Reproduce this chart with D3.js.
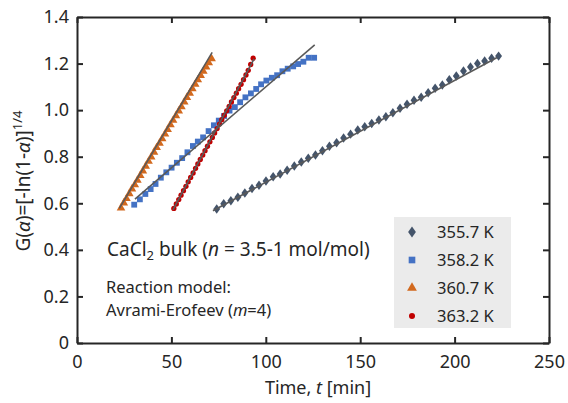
<!DOCTYPE html>
<html lang="en">
<head>
<meta charset="UTF-8">
<title>CaCl2 kinetics</title>
<style>
    body { margin: 0; background: white; }
    #svg { display: block; }
    text { font-family: "Noto Sans", "Open Sans", sans-serif; fill: #262626; }
</style>
<script src="https://d3js.org/d3.v7.min.js"></script>
</head>
<body>
<svg id="svg"></svg>
<script>
    const width = 568;
    const height = 403;
    const margin = { top: 17, right: 19, bottom: 60, left: 77 };

    // 355.7 K
    const t355 = [74.0, 77.7, 81.5, 85.2, 88.9, 92.7, 96.4, 100.1, 103.9, 107.6, 111.3, 115.1, 118.8, 122.5,
        126.3, 130.0, 133.7, 137.5, 141.2, 144.9, 148.7, 152.4, 156.1, 159.9, 163.6, 167.3, 171.1, 174.8,
        178.5, 182.3, 186.0, 189.7, 193.5, 197.2, 200.9, 204.7, 208.4, 212.1, 215.9, 219.6, 223.3];
    const g355 = [0.575, 0.598, 0.611, 0.626, 0.644, 0.663, 0.677, 0.696, 0.714, 0.726, 0.742, 0.760, 0.777, 0.793,
        0.807, 0.826, 0.845, 0.860, 0.880, 0.897, 0.915, 0.929, 0.943, 0.958, 0.972, 0.989, 1.008, 1.025,
        1.042, 1.055, 1.075, 1.094, 1.108, 1.131, 1.147, 1.168, 1.185, 1.200, 1.211, 1.223, 1.232];
    // 358.2 K
    const t358 = [30.3, 33.3, 36.2, 39.0, 41.6, 44.4, 47.3, 50.1, 52.9, 55.7, 58.5, 61.4, 64.0, 66.8, 69.7,
        72.5, 75.1, 77.9, 80.8, 83.6, 86.4, 89.2, 92.1, 94.9, 97.5, 100.3, 103.2, 106.0, 108.8, 111.6,
        114.5, 117.1, 119.9, 122.7, 125.6];
    const g358 = [0.594, 0.617, 0.640, 0.661, 0.683, 0.710, 0.733, 0.753, 0.774, 0.794, 0.819, 0.846, 0.865, 0.883, 0.910,
        0.935, 0.955, 0.975, 0.998, 1.013, 1.034, 1.055, 1.072, 1.091, 1.111, 1.127, 1.139, 1.150, 1.167, 1.178,
        1.188, 1.198, 1.208, 1.225, 1.225];
    // 360.7 K
    const t360 = [23.3, 24.8, 26.2, 27.7, 29.1, 30.6, 32.0, 33.5, 34.9, 36.4, 37.9, 39.3, 40.8, 42.2, 43.7, 45.1,
        46.6, 48.0, 49.5, 50.9, 52.4, 53.9, 55.3, 56.8, 58.2, 59.7, 61.1, 62.6, 64.0, 65.5, 66.9, 68.4, 69.8, 71.3];
    const g360 = [0.580, 0.601, 0.620, 0.641, 0.661, 0.680, 0.699, 0.719, 0.739, 0.759, 0.780, 0.799, 0.819, 0.839, 0.858, 0.877,
        0.897, 0.917, 0.937, 0.956, 0.976, 0.996, 1.015, 1.035, 1.054, 1.073, 1.092, 1.111, 1.130, 1.149, 1.167, 1.185, 1.203, 1.221];
    // 363.2 K
    const t363 = [51.3, 52.6, 53.9, 55.1, 56.4, 57.7, 58.9, 60.2, 61.5, 62.8, 64.0, 65.3, 66.6, 67.8, 69.1, 70.4,
        71.7, 72.9, 74.2, 75.5, 76.7, 78.0, 79.3, 80.6, 81.8, 83.1, 84.4, 85.6, 86.9, 88.2, 89.5, 90.7, 92.0, 93.3];
    const g363 = [0.578, 0.597, 0.616, 0.635, 0.654, 0.673, 0.692, 0.711, 0.730, 0.750, 0.769, 0.788, 0.807, 0.826, 0.845, 0.864,
        0.883, 0.902, 0.921, 0.940, 0.959, 0.978, 0.997, 1.016, 1.035, 1.054, 1.073, 1.092, 1.111, 1.131, 1.151, 1.171, 1.196, 1.223];

    // linear fits: [t start, G start, t end, G end]
    const fits = [
        [72.0, 0.568, 222.5, 1.226],
        [30.7, 0.618, 125.9, 1.280],
        [22.4, 0.578, 71.6, 1.248],
        [50.8, 0.572, 93.8, 1.220]
    ];

    const labels = ['355.7 K', '358.2 K', '360.7 K', '363.2 K'];
    const colors = ['#44546a', '#4472c4', '#d2691e', '#c00000'];
    const symbols = [d3.symbolDiamond, d3.symbolSquare, d3.symbolTriangle, d3.symbolCircle];
    const sizes = [26, 34, 32, 22];
    const xTicks = [0, 50, 100, 150, 200, 250];
    const yTicks = [0, 0.2, 0.4, 0.6, 0.8, 1.0, 1.2, 1.4];

    const series = [[t355, g355], [t358, g358], [t360, g360], [t363, g363]];

    const svg = d3.select('#svg')
        .attr('width', width)
        .attr('height', height);

    const x = d3.scaleLinear().domain([0, 250]).range([margin.left, width - margin.right]);
    const y = d3.scaleLinear().domain([0, 1.4]).range([height - margin.bottom, margin.top]);

    const x0 = x(0), x1 = x(250), y0 = y(0), y1 = y(1.4);

    // data markers
    series.forEach(function (s, k) {
        const pts = s[0].map(function (t, i) { return [t, s[1][i]]; });
        svg.append('g')
            .selectAll('path')
            .data(pts)
            .enter()
            .append('path')
            .attr('d', d3.symbol().type(symbols[k]).size(sizes[k]))
            .attr('transform', function (d) {
                return 'translate(' + x(d[0]) + ',' + y(d[1]) + ')' + (k === 0 ? ' scale(1.25,1)' : '');
            })
            .attr('fill', colors[k]);
    });

    // fit lines
    svg.append('g')
        .selectAll('line')
        .data(fits)
        .enter()
        .append('line')
        .attr('x1', function (d) { return x(d[0]); })
        .attr('y1', function (d) { return y(d[1]); })
        .attr('x2', function (d) { return x(d[2]); })
        .attr('y2', function (d) { return y(d[3]); })
        .attr('stroke', '#595959')
        .attr('stroke-width', 1.6);

    // axes, ticks pointing inward on all four sides
    const fmtY = function (d) { return d === 0 ? '0' : d3.format('.1f')(d); };
    const axB = svg.append('g').attr('transform', 'translate(0,' + y0 + ')')
        .call(d3.axisBottom(x).tickValues(xTicks).tickSizeInner(-6).tickSizeOuter(0).tickPadding(12));
    const axT = svg.append('g').attr('transform', 'translate(0,' + y1 + ')')
        .call(d3.axisTop(x).tickValues(xTicks).tickSizeInner(-6).tickSizeOuter(0).tickFormat(''));
    const axL = svg.append('g').attr('transform', 'translate(' + x0 + ',0)')
        .call(d3.axisLeft(y).tickValues(yTicks).tickFormat(fmtY).tickSizeInner(-6).tickSizeOuter(0).tickPadding(8));
    const axR = svg.append('g').attr('transform', 'translate(' + x1 + ',0)')
        .call(d3.axisRight(y).tickValues(yTicks).tickSizeInner(-6).tickSizeOuter(0).tickFormat(''));

    [axB, axT, axL, axR].forEach(function (a) {
        a.select('.domain').attr('stroke', '#262626').attr('stroke-width', 2);
        a.selectAll('.tick line').attr('stroke', '#262626').attr('stroke-width', 2);
        a.selectAll('.tick text').attr('font-size', 18).attr('fill', '#262626')
            .attr('font-family', '"Noto Sans", sans-serif');
    });

    // axis titles
    const xt = svg.append('text')
        .attr('x', (x0 + x1) / 2 + 5)
        .attr('y', 394)
        .attr('text-anchor', 'middle')
        .attr('font-size', 18);
    xt.append('tspan').text('Time, ');
    xt.append('tspan').attr('font-style', 'italic').text('t');
    xt.append('tspan').text(' [min]');

    const yt = svg.append('text')
        .attr('transform', 'translate(30,' + ((y0 + y1) / 2 + 1) + ') rotate(-90)')
        .attr('text-anchor', 'middle')
        .attr('font-size', 19);
    yt.append('tspan').text('G(');
    yt.append('tspan').attr('font-style', 'italic').text('α');
    yt.append('tspan').text(')=[-ln(1-');
    yt.append('tspan').attr('font-style', 'italic').text('α');
    yt.append('tspan').text(')]');
    yt.append('tspan').attr('font-size', 13).attr('dy', -8).text('1/4');

    // annotations
    const a1 = svg.append('text').attr('x', 107).attr('y', 256).attr('font-size', 19);
    a1.append('tspan').text('CaCl');
    a1.append('tspan').attr('font-size', 13).attr('dy', 4).text('2');
    a1.append('tspan').attr('dy', -4).text(' bulk (');
    a1.append('tspan').attr('font-style', 'italic').text('n');
    a1.append('tspan').text(' = 3.5-1 mol/mol)');

    svg.append('text').attr('x', 106).attr('y', 293).attr('font-size', 16.5).text('Reaction model:');
    const a3 = svg.append('text').attr('x', 106).attr('y', 316).attr('font-size', 16.5);
    a3.append('tspan').text('Avrami-Erofeev (');
    a3.append('tspan').attr('font-style', 'italic').text('m');
    a3.append('tspan').text('=4)');

    // legend
    const lg = svg.append('g');
    lg.append('rect')
        .attr('x', 394).attr('y', 217).attr('width', 117).attr('height', 111)
        .attr('fill', '#ebebeb');
    labels.forEach(function (lab, k) {
        const ry = 232 + k * 28;
        lg.append('path')
            .attr('d', d3.symbol().type(symbols[k]).size(sizes[k] * 1.3))
            .attr('transform', 'translate(412,' + ry + ')' + (k === 0 ? ' scale(1.25,1)' : ''))
            .attr('fill', colors[k]);
        lg.append('text')
            .attr('x', 437).attr('y', ry + 6)
            .attr('font-size', 16.5)
            .text(lab);
    });
</script>
</body>
</html>
